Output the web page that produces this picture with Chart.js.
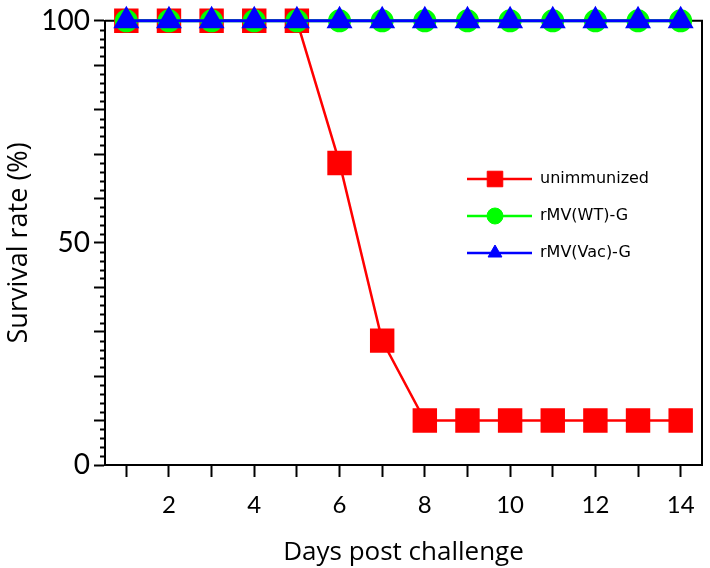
<!DOCTYPE html>
<html>
<head>
<meta charset="utf-8">
<script src="https://cdn.jsdelivr.net/npm/chart.js@4/dist/chart.umd.min.js"></script>
<style>
  html, body { margin: 0; padding: 0; background: #fff; }
  #wrap { width: 710px; height: 568px; }
</style>
</head>
<body>
<div id="wrap"><canvas id="grafico" width="710" height="568"></canvas></div>
<script>
// dados
const dias = [1, 2, 3, 4, 5, 6, 7, 8, 9, 10, 11, 12, 13, 14];
const naoImunizado = [100, 100, 100, 100, 100, 68, 28, 10, 10, 10, 10, 10, 10, 10];
const rmvWT = [100, 100, 100, 100, 100, 100, 100, 100, 100, 100, 100, 100, 100, 100];
const rmvVac = [100, 100, 100, 100, 100, 100, 100, 100, 100, 100, 100, 100, 100, 100];
const rotulosSeries = ['unimmunized', 'rMV(WT)-G', 'rMV(Vac)-G'];
const ticksX = [1, 2, 3, 4, 5, 6, 7, 8, 9, 10, 11, 12, 13, 14];
const rotulosX = [2, 4, 6, 8, 10, 12, 14];
const ticksY = [0, 10, 20, 30, 40, 50, 60, 70, 80, 90, 100];
const rotulosY = [0, 50, 100];

const pontos = arr => arr.map((v, i) => ({ x: dias[i], y: v }));

// ticks menores do eixo Y (a cada 2) + moldura direita/superior
const extras = {
  id: 'extras',
  beforeDatasetsDraw(chart) {
    const { ctx, chartArea: a, scales: { y } } = chart;
    ctx.save();
    ctx.strokeStyle = '#000';
    ctx.lineWidth = 2;
    ctx.beginPath();
    for (let v = 0; v <= 100; v += 2) {
      if (v % 10 === 0) continue;
      const py = Math.round(y.getPixelForValue(v)) + 0.5;
      ctx.moveTo(a.left - 5, py);
      ctx.lineTo(a.left, py);
    }
    ctx.stroke();
    ctx.beginPath();
    ctx.moveTo(a.left, a.top);
    ctx.lineTo(a.right, a.top);
    ctx.lineTo(a.right, a.bottom);
    ctx.stroke();
    ctx.restore();
  },
  afterDraw(chart) {
    // legenda dentro do gráfico
    const { ctx } = chart;
    const linhas = [179, 216, 253];
    ctx.save();
    chart.data.datasets.forEach((ds, i) => {
      const yy = linhas[i];
      ctx.strokeStyle = ds.borderColor;
      ctx.lineWidth = 2.5;
      ctx.beginPath();
      ctx.moveTo(467, yy);
      ctx.lineTo(532, yy);
      ctx.stroke();
      ctx.fillStyle = ds.backgroundColor;
      ctx.strokeStyle = ds.backgroundColor;
      ctx.lineWidth = 1;
      Chart.helpers.drawPoint(ctx, { pointStyle: ds.pointStyle, radius: ds.pointStyle === 'rect' ? 11 : 8, rotation: 0, borderWidth: 1 }, 495, yy);
      ctx.fillStyle = '#000';
      ctx.font = '16px "DejaVu Sans", sans-serif';
      ctx.textBaseline = 'middle';
      ctx.fillText(ds.label, 540, yy);
    });
    ctx.restore();
  }
};

new Chart(document.getElementById('grafico').getContext('2d'), {
  type: 'line',
  data: {
    datasets: [
      {
        label: rotulosSeries[0], data: pontos(naoImunizado),
        borderColor: '#ff0000', backgroundColor: '#ff0000', borderWidth: 2.5,
        pointStyle: 'rect', pointRadius: 15.5, pointHoverRadius: 15.5, order: 3, clip: false
      },
      {
        label: rotulosSeries[1], data: pontos(rmvWT),
        borderColor: '#00ff00', backgroundColor: '#00ff00', borderWidth: 3,
        pointStyle: 'circle', pointRadius: 10, pointHoverRadius: 10, order: 2, clip: false
      },
      {
        label: rotulosSeries[2], data: pontos(rmvVac),
        borderColor: '#0000ff', backgroundColor: '#0000ff', borderWidth: 3,
        pointStyle: 'triangle', pointRadius: 12, pointHoverRadius: 12, order: 1, clip: false
      }
    ]
  },
  options: {
    responsive: false,
    animation: false,
    layout: { autoPadding: false, padding: { top: 19, right: 8, left: 0, bottom: 0 } },
    plugins: { legend: { display: false }, tooltip: { enabled: false } },
    scales: {
      x: {
        type: 'linear', min: 0.5, max: 14.5,
        afterBuildTicks: s => { s.ticks = ticksX.map(v => ({ value: v })); },
        afterFit: s => { s.height = 103; s.paddingLeft = 0; s.paddingRight = 0; },
        ticks: {
          autoSkip: false, maxRotation: 0, color: '#000', padding: 14,
          font: { family: 'Lato, "DejaVu Sans", sans-serif', size: 24 },
          callback: v => rotulosX.includes(v) ? String(v) : ''
        },
        grid: { drawOnChartArea: false, tickLength: 12, tickColor: '#000', tickWidth: 2 },
        border: { color: '#000', width: 2 },
        title: {
          display: true, text: 'Days post challenge', color: '#000',
          font: { family: '"Open Sans", sans-serif', size: 26 }, padding: { top: 6, bottom: 0 }
        }
      },
      y: {
        min: 0, max: 100,
        afterBuildTicks: s => { s.ticks = ticksY.map(v => ({ value: v })); },
        afterFit: s => { s.width = 105; },
        ticks: {
          autoSkip: false, color: '#000', padding: 4,
          font: { family: 'Lato, "DejaVu Sans", sans-serif', size: 28 },
          callback: v => rotulosY.includes(v) ? String(v) : ''
        },
        grid: { drawOnChartArea: false, tickLength: 11, tickColor: '#000', tickWidth: 2 },
        border: { color: '#000', width: 2 },
        title: {
          display: true, text: 'Survival rate (%)', color: '#000',
          font: { family: '"Open Sans", sans-serif', size: 27 }, padding: { top: 3, bottom: 0 }
        }
      }
    }
  },
  plugins: [extras]
});
</script>
</body>
</html>
